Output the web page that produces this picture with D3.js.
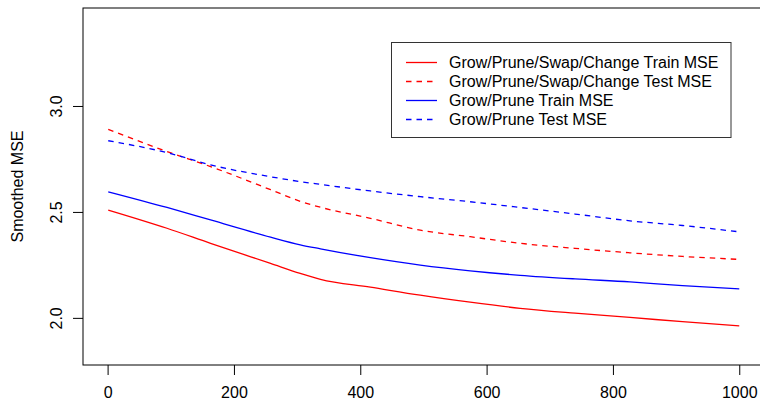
<!DOCTYPE html>
<html>
<head>
<meta charset="utf-8">
<script src="https://cdn.jsdelivr.net/npm/d3@7"></script>
<style>
  body { margin: 0; background: #fff; }
  svg text { font-family: "Liberation Sans", Arial, sans-serif; font-size: 16px; fill: #000; }
</style>
</head>
<body>
<div id="chart"></div>
<script>
const iters = [1, 94, 163, 258, 305, 337, 416, 495, 574, 653, 740, 827, 910, 1000];
const gpscTrain = [2.509, 2.423, 2.352, 2.257, 2.210, 2.182, 2.145, 2.107, 2.074, 2.045, 2.022, 2.002, 1.982, 1.962];
const gpscTest = [2.890, 2.785, 2.714, 2.605, 2.550, 2.522, 2.470, 2.414, 2.383, 2.352, 2.328, 2.307, 2.290, 2.276];
const gpTrain = [2.595, 2.521, 2.462, 2.381, 2.345, 2.326, 2.284, 2.249, 2.222, 2.201, 2.184, 2.170, 2.152, 2.137];
const gpTest = [2.836, 2.780, 2.722, 2.666, 2.643, 2.630, 2.599, 2.572, 2.548, 2.521, 2.490, 2.458, 2.436, 2.406];

const seriesNames = [
  "Grow/Prune/Swap/Change Train MSE",
  "Grow/Prune/Swap/Change Test MSE",
  "Grow/Prune Train MSE",
  "Grow/Prune Test MSE"
];
const xTicks = [0, 200, 400, 600, 800, 1000];
const yTicks = [2.0, 2.5, 3.0];

const COLORS = ["#ff0000", "#ff0000", "#0000ff", "#0000ff"];
const DASHES = [null, "5.5,5", null, "5.5,5"];

const width = 760, height = 401;
const plot = { left: 83, top: 8, bottom: 365, right: 764.5 };

const svg = d3.select("#chart").append("svg")
  .attr("width", width)
  .attr("height", height);

svg.append("rect").attr("width", width).attr("height", height).attr("fill", "#fff");

// R style xlim / ylim (4% padding)
const x = d3.scaleLinear().domain([-38.96, 1039.96]).range([plot.left, plot.right]);
const y = d3.scaleLinear().domain([1.7776, 3.4624]).range([plot.bottom, plot.top]);

const allSeries = [gpscTrain, gpscTest, gpTrain, gpTest];

const line = d3.line()
  .x(d => x(d[0]))
  .y(d => y(d[1]))
  .curve(d3.curveMonotoneX);

svg.append("g").selectAll("path")
  .data(allSeries)
  .enter()
  .append("path")
  .attr("d", vals => line(iters.map((it, i) => [it, vals[i]])))
  .attr("fill", "none")
  .attr("stroke", (d, i) => COLORS[i])
  .attr("stroke-width", 1.3)
  .attr("stroke-dasharray", (d, i) => DASHES[i]);

// box
svg.append("rect")
  .attr("x", plot.left)
  .attr("y", plot.top)
  .attr("width", plot.right - plot.left)
  .attr("height", plot.bottom - plot.top)
  .attr("fill", "none")
  .attr("stroke", "#000")
  .attr("stroke-width", 1);

// x axis
const xAxis = svg.append("g")
  .attr("transform", `translate(0,${plot.bottom})`)
  .call(d3.axisBottom(x).tickValues(xTicks).tickFormat(d3.format("d")).tickSize(10).tickPadding(12).tickSizeOuter(0));
xAxis.select(".domain").remove();
xAxis.selectAll("line").attr("stroke", "#000");
xAxis.selectAll("text")
  .attr("font-size", 16)
  .attr("font-family", "Liberation Sans, Arial, sans-serif")
  .attr("fill", "#000");

// y axis (labels rotated like R's las=0)
const yAxis = svg.append("g")
  .attr("transform", `translate(${plot.left},0)`)
  .call(d3.axisLeft(y).tickValues(yTicks).tickSize(10).tickFormat(d3.format(".1f")).tickSizeOuter(0));
yAxis.select(".domain").remove();
yAxis.selectAll("line").attr("stroke", "#000");
yAxis.selectAll("text")
  .attr("x", null).attr("dy", null)
  .attr("text-anchor", "middle")
  .attr("transform", "translate(-21.5,0) rotate(-90)")
  .attr("font-size", 16)
  .attr("font-family", "Liberation Sans, Arial, sans-serif")
  .attr("fill", "#000");

svg.append("text")
  .attr("transform", `translate(22.5,${(plot.top + plot.bottom) / 2}) rotate(-90)`)
  .attr("text-anchor", "middle")
  .text("Smoothed MSE");

// legend
const legend = svg.append("g");
legend.append("rect")
  .attr("x", 391.5).attr("y", 42.5)
  .attr("width", 339.5).attr("height", 95)
  .attr("fill", "#fff")
  .attr("stroke", "#333")
  .attr("stroke-width", 1);

const rows = legend.selectAll("g.row")
  .data(seriesNames)
  .enter()
  .append("g")
  .attr("class", "row")
  .attr("transform", (d, i) => `translate(0,${62.5 + i * 19})`);

rows.append("line")
  .attr("x1", 406).attr("x2", 437)
  .attr("stroke", (d, i) => COLORS[i])
  .attr("stroke-width", 1.3)
  .attr("stroke-dasharray", (d, i) => DASHES[i]);

rows.append("text")
  .attr("x", 449)
  .attr("dy", "0.36em")
  .text(d => d);
</script>
</body>
</html>
